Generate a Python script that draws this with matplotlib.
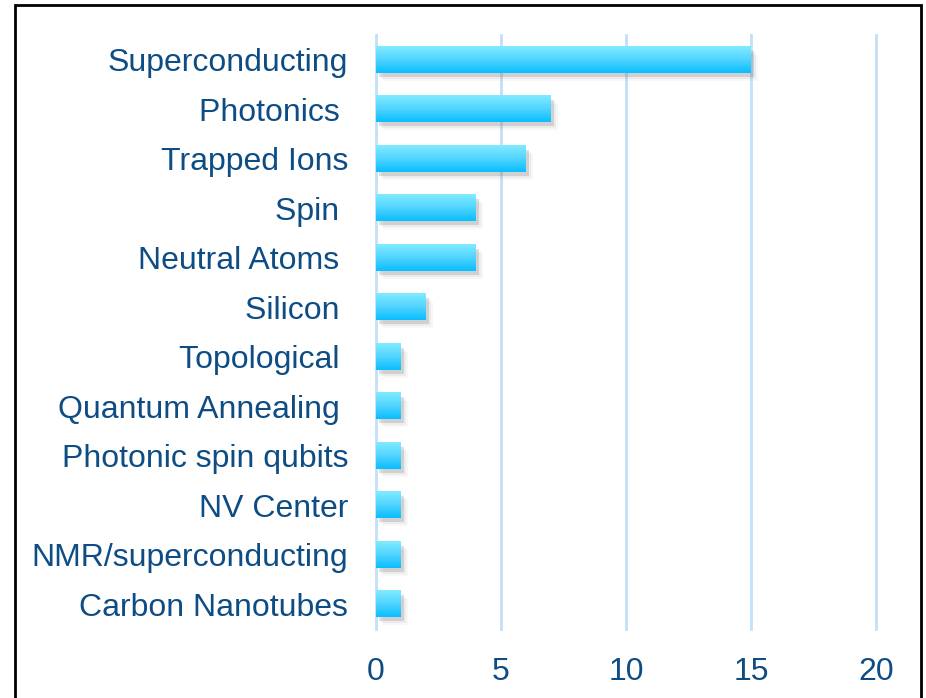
import numpy as np
import matplotlib.pyplot as plt
import matplotlib.transforms as mtransforms
from matplotlib.patches import Rectangle
from matplotlib.colors import LinearSegmentedColormap

# qubit technologies and number of entries per technology
technologies = ["Superconducting", "Photonics ", "Trapped Ions", "Spin ",
                "Neutral Atoms ", "Silicon ", "Topological ", "Quantum Annealing ",
                "Photonic spin qubits", "NV Center", "NMR/superconducting",
                "Carbon Nanotubes"]
counts = [15, 7, 6, 4, 4, 2, 1, 1, 1, 1, 1, 1]
x_ticks = [0, 5, 10, 15, 20]

plt.rcParams['font.family'] = ['Liberation Sans', 'DejaVu Sans']
label_color = '#0E4C84'
grid_color = '#C2E0F8'

fig = plt.figure(figsize=(9.26, 6.98), dpi=100)
ax = fig.add_axes([376 / 926, 1 - 629 / 698, 500 / 926, 594 / 698])

y = np.arange(len(technologies))
bars = ax.barh(y, counts, height=0.53, color='none', zorder=3)

# vertical gradient: light cyan on top, deeper sky blue at the bottom
grad_cmap = LinearSegmentedColormap.from_list('bar', ['#80EBFF', '#52D4FF', '#08BEFF'])
grad = np.linspace(0, 1, 64).reshape(-1, 1)

for rect in bars.patches:
    x0, y0 = rect.get_x(), rect.get_y()
    w, h = rect.get_width(), rect.get_height()
    # soft drop shadow, offset right/down a few pixels
    for dx, dy, a in [(7, -8, 0.05), (5, -6, 0.08), (3, -4, 0.22)]:
        off = mtransforms.ScaledTranslation(dx / 100, dy / 100, fig.dpi_scale_trans)
        sh = Rectangle((x0, y0), w, h, facecolor='#707070', edgecolor='none',
                       alpha=a, transform=ax.transData + off, zorder=2)
        ax.add_patch(sh)
    ax.imshow(grad, cmap=grad_cmap, aspect='auto', interpolation='bicubic',
              extent=(x0, x0 + w, y0 + h, y0), zorder=4)

ax.set_xlim(0, 20)
ax.set_ylim(len(technologies) - 0.5, -0.5)

for xv in x_ticks:
    ax.axvline(xv, color=grid_color, lw=2, zorder=1, clip_on=False)

ax.set_yticks(y)
ax.set_yticklabels(technologies, fontsize=23, color=label_color)
ax.set_xticks(x_ticks)
ax.set_xticklabels([str(v) for v in x_ticks], fontsize=23, color=label_color)
ax.tick_params(axis='y', length=0, pad=20)
ax.tick_params(axis='x', length=0, pad=20)
for s in ax.spines.values():
    s.set_visible(False)

# outer frame, running off the bottom edge
fig.patches.append(Rectangle((15 / 926, -0.05), 906 / 926, 1.05 - 5 / 698,
                             transform=fig.transFigure, fill=False,
                             edgecolor='black', lw=2))

fig.savefig('out.png', dpi=100)
